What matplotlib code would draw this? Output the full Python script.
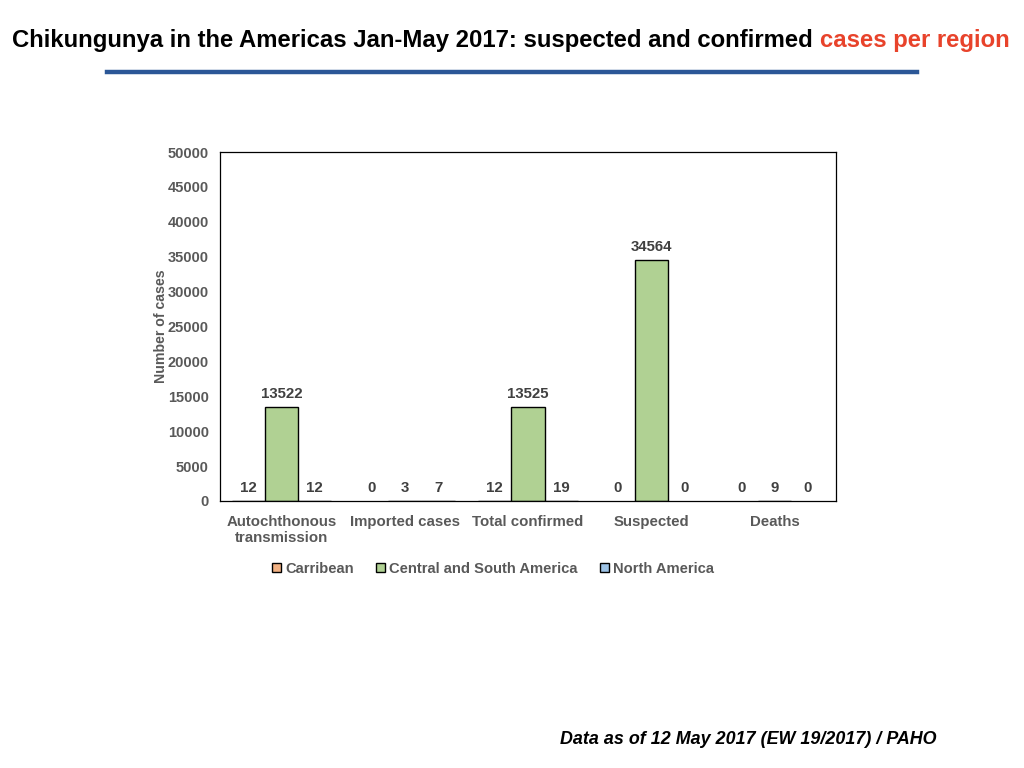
import matplotlib
matplotlib.use("Agg")
import matplotlib.pyplot as plt
import numpy as np
from matplotlib import font_manager

categories = ["Autochthonous\ntransmission", "Imported cases", "Total confirmed", "Suspected", "Deaths"]
series_names = ["Carribean", "Central and South America", "North America"]
carribean = [12, 0, 12, 0, 0]
central_south = [13522, 3, 13525, 34564, 9]
north_america = [12, 7, 19, 0, 0]
colors = ["#f2b183", "#b0d193", "#9dc3e6"]

names = {f.name for f in font_manager.fontManager.ttflist}
title_font = "Liberation Sans Narrow" if "Liberation Sans Narrow" in names else "Liberation Sans"

fig = plt.figure(figsize=(10.24, 7.68), dpi=100)
fig.patch.set_facecolor("white")

fig.text(0.012, 1 - 41 / 768, "Chikungunya in the Americas Jan-May 2017: suspected and confirmed ",
         fontsize=17.2, fontweight="bold", family=title_font, va="center", ha="left", color="black")
fig.canvas.draw()
t0 = fig.texts[0]
bb = t0.get_window_extent(renderer=fig.canvas.get_renderer())
fig.text(bb.x1 / 1024, 1 - 41 / 768, "cases per region", fontsize=17.2, fontweight="bold",
         family=title_font, va="center", ha="left", color="#e8432b")

fig.add_artist(plt.Line2D([107 / 1024, 917 / 1024], [1 - 72 / 768] * 2, color="#2b5797", lw=3.2,
                          transform=fig.transFigure))

ax = fig.add_axes([220 / 1024, 1 - 501 / 768, 616 / 1024, 349 / 768])
x = np.arange(len(categories))
w = 0.27
data = [carribean, central_south, north_america]
grey = "#595959"
for i, (vals, c, n) in enumerate(zip(data, colors, series_names)):
    pos = x + (i - 1) * w
    ax.bar(pos, vals, w, color=c, edgecolor=[("black" if v > 0 else "none") for v in vals],
           linewidth=1.0, label=n)
    for p, v in zip(pos, vals):
        ax.text(p, v + 800, str(v), ha="center", va="bottom", fontsize=10.8, fontweight="bold",
                color="#404040", family="Liberation Sans")

ax.set_xlim(-0.5, 4.5)
ax.set_ylim(0, 50000)
ax.set_yticks(range(0, 50001, 5000))
ax.set_xticks(x)
ax.set_xticklabels(categories, fontsize=10.8, fontweight="bold", color=grey, family="Liberation Sans",
                   linespacing=1.15)
for lab in ax.get_yticklabels():
    lab.set_fontsize(10.5)
    lab.set_fontweight("bold")
    lab.set_color(grey)
    lab.set_family("Liberation Sans")
ax.tick_params(axis="x", length=0, pad=10)
ax.tick_params(axis="y", length=0, pad=8)
for s in ax.spines.values():
    s.set_color("black")
    s.set_linewidth(0.9)
ax.set_ylabel("Number of cases", fontsize=10.2, fontweight="bold", color=grey, family="Liberation Sans",
              labelpad=0)

leg = fig.legend(loc="center", bbox_to_anchor=(493 / 1024, 1 - 569 / 768), ncol=3, frameon=False,
                 prop={"family": "Liberation Sans", "weight": "bold", "size": 10.6},
                 handlelength=0.6, handleheight=0.6, handletextpad=0.3, columnspacing=1.5)
for t in leg.get_texts():
    t.set_color(grey)

fig.text(937 / 1024, 1 - 739 / 768, "Data as of 12 May 2017 (EW 19/2017) / PAHO", fontsize=12.9,
         fontweight="bold", fontstyle="italic", family="Liberation Sans", ha="right", va="center")

fig.savefig("out.png", dpi=100)
